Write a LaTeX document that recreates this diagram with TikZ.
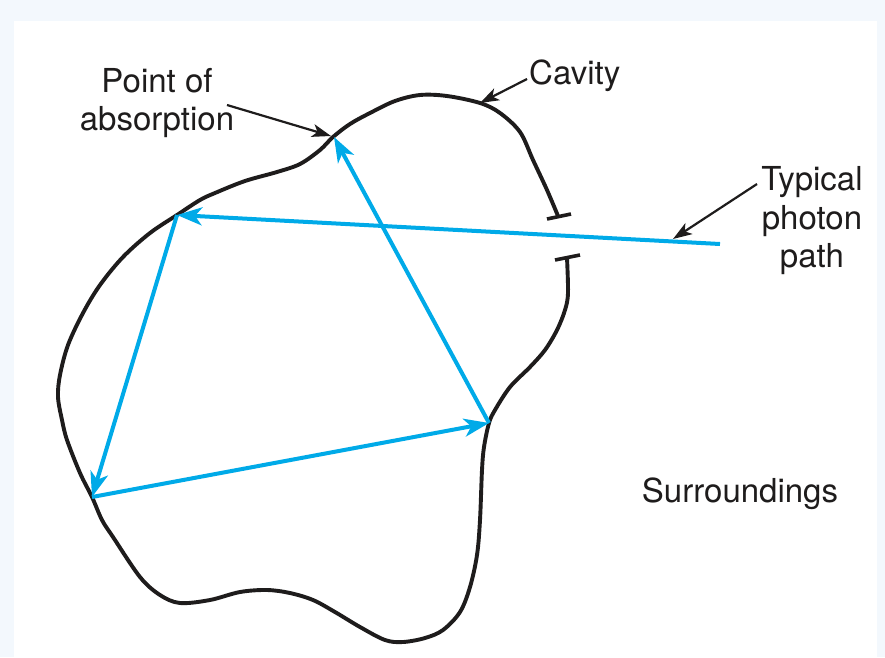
\documentclass[tikz,border=0pt]{standalone}
\usepackage{fontspec}
\setmainfont{TeX Gyre Heros}
\usetikzlibrary{arrows.meta}
\definecolor{photon}{RGB}{0,170,232}
\definecolor{bgblue}{RGB}{243,248,253}
\definecolor{ink}{RGB}{30,28,28}
\tikzset{
  wall/.style={draw=ink,line width=3.9pt,line join=round},
  ray/.style={draw=photon,line width=4pt,-{Stealth[length=25pt,width=18pt,inset=7pt]}},
  leader/.style={draw=ink,line width=2.2pt,-{Stealth[length=19pt,width=13pt,inset=5pt]}},
  label/.style={text=ink,font=\fontsize{33}{38.5}\selectfont,align=center,inner sep=0pt},
  capline/.style={draw=ink,line width=3.6pt}
}
\begin{document}
\begin{tikzpicture}[x=1pt,y=-1pt]
\useasboundingbox (0,0) rectangle (885,657);
\fill[bgblue] (0,0) rectangle (885,657);
\fill[white] (14,21) rectangle (877,657);
% cavity wall
\draw[wall] plot[smooth,tension=0.55] coordinates {
(558,216) (547,190) (533,160) (520,132) (500,113) (480,103) (447,96) (420,95)
(395,101) (370,113) (350,124) (333,137) (320,150) (300,164) (277,172) (245,181)
(215,193) (200,200) (177,215) (150,233) (123,257) (100,285) (83,313) (68,345)
(60,375) (58,397) (62,420) (67,440) (80,473) (92,497) (102,520) (113,537)
(140,577) (160,595) (180,603) (210,600) (240,592) (267,590) (290,593) (313,600)
(335,612) (360,627) (385,640) (403,642) (425,638) (443,630) (460,612) (470,587)
(477,555) (480,520) (482,470) (484,447) (489,423) (495,410) (510,387) (530,367)
(545,350) (557,330) (565,310) (568,293) (567,258)};
% aperture caps
\coordinate (capAa) at (547,219); \coordinate (capAb) at (571,214);
\coordinate (capBa) at (555,260); \coordinate (capBb) at (580,255);
\draw[capline] (capAa) -- (capAb);
\draw[capline] (capBa) -- (capBb);
% photon path points
\coordinate (entry) at (720,244);
\coordinate (P1) at (177,215);
\coordinate (P2) at (92,497);
\coordinate (P3) at (489,423);
\coordinate (P4) at (334,137);
\draw[ray] (entry) -- (P1);
\draw[ray] (P1) -- (P2);
\draw[ray] (P2) -- (P3);
\draw[ray] (P3) -- (P4);
% labels
\node[label] (absorb) at (157,103) {Point of\\absorption};
\node[label,anchor=west] (cavity) at (529,76) {Cavity};
\node[label] (typical) at (812,221) {Typical\\photon\\path};
\node[label] (surr) at (740,494) {Surroundings};
% leaders
\coordinate (absTail) at (227,105);
\coordinate (absTip) at (331,136);
\coordinate (cavTail) at (527,79);
\coordinate (cavTip) at (480,103);
\coordinate (typTail) at (757,184);
\coordinate (typTip) at (673,239);
\draw[leader] (absTail) -- (absTip);
\draw[leader] (cavTail) -- (cavTip);
\draw[leader] (typTail) -- (typTip);
\end{tikzpicture}
\end{document}
